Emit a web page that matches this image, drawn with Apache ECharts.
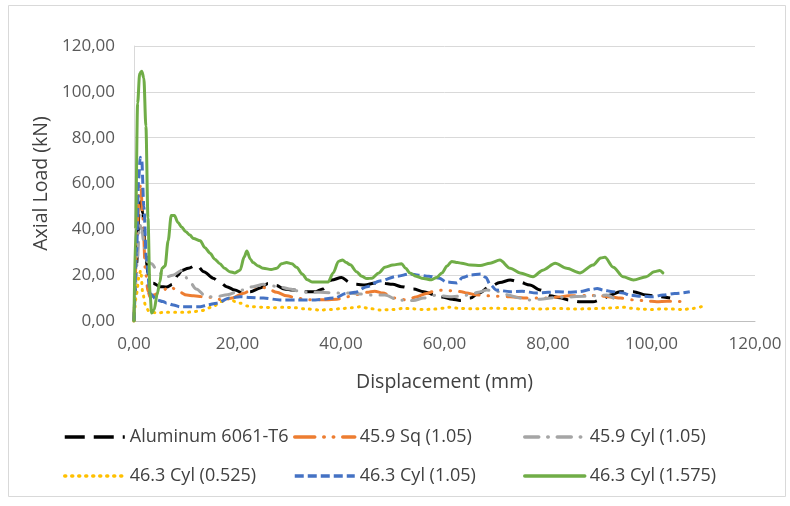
<!DOCTYPE html>
<html>
<head>
<meta charset="utf-8">
<script src="https://cdn.jsdelivr.net/npm/echarts@6/dist/echarts.min.js"></script>
<style>html,body{margin:0;padding:0;background:#fff;}#c{width:790px;height:506px;}</style>
</head>
<body>
<div id="c"></div>
<script>
// ---- data ----
const seriesNames = ['Aluminum 6061-T6', '45.9 Sq (1.05)', '45.9 Cyl (1.05)', '46.3 Cyl (0.525)', '46.3 Cyl (1.05)', '46.3 Cyl (1.575)'];
const xTicks = [0, 20, 40, 60, 80, 100, 120];
const yTicks = [0, 20, 40, 60, 80, 100, 120];

const aluminum = [[0,0],[0.5,25],[1.0,48],[1.3,52],[1.7,47],[2.2,30],[2.7,21],[3.2,18],[3.7,16.5],[5,15],[6.3,14.8],[7.5,16],[8.5,20],[9.2,22],[10.5,23],[12.1,24.4],[13.5,21.5],[15.3,18.7],[16.5,17],[17.9,15],[19.5,13.5],[21,12.2],[22.5,12.8],[24.4,14.4],[25.9,16.4],[27.5,15.5],[29,14],[30.7,13.5],[33,12.8],[35,12.8],[36.5,14],[38.2,17.9],[40.1,19],[41.7,16.8],[43,16],[44.6,15.7],[46.6,16.6],[48,16.5],[50,16],[51.7,15],[54,14],[56,12.8],[58,11.5],[59.5,10.5],[61.5,9.5],[63,9],[65,10],[66.5,12],[68.8,15],[70.7,16.8],[72.7,17.9],[74.5,17],[76.5,15.7],[78.5,13.5],[80.4,11],[82.3,10.2],[84,9.2],[86.2,8.4],[88.7,8.4],[90.5,9.5],[92,11.3],[93.9,12.8],[96.5,12.8],[99,11.3],[101.6,10.6],[103.6,10]];

const sq105 = [[0,0],[0.5,30],[1.0,55],[1.3,60],[1.7,45],[2.2,22],[2.7,13],[3.1,10.5],[4,11.5],[5.6,13.5],[7,15],[8.5,13],[10.2,11.3],[11.5,11],[13.3,10.6],[15.3,10.3],[17.2,9],[19,10],[21,12],[23.7,15],[25.5,14.5],[27.6,12.5],[29.5,11],[31.5,10],[33.5,9.3],[35.3,9.2],[37.2,9.3],[39.2,9.5],[41,10.5],[43,11.5],[45,12.5],[46.5,13],[48.1,12.2],[50.4,10],[52.7,9.2],[54.5,10.5],[56.5,12],[58,13],[59.7,13.5],[61.5,13.2],[63.3,12.8],[64.3,12.2],[66,11.5],[68,11],[70,10.8],[72.7,10.6],[75.9,10],[78,10],[80,10],[82,10.5],[84,11],[86,11],[88,11.2],[90,11],[92,10.5],[94,10],[96.5,9.2],[99,8.8],[101,8.4],[103,8.6],[105,8.5],[107,8.4]];

const cyl105 = [[0,0],[0.6,25],[1.1,42],[1.5,40],[2,32],[2.5,26],[3.4,25],[4.5,22],[6,19],[7.5,20],[9.2,22],[10.5,18],[12,14],[14,10.6],[16,10.6],[18,11.5],[21,13.5],[23,15],[25,16],[28,15],[30,14],[32,13],[34,12.5],[36,12.5],[39.5,12.2],[41.4,12.2],[43.5,11.8],[46,11.3],[48.5,11.3],[51,9.2],[52.4,9],[54,9],[56,10],[58.5,11.3],[61,10.6],[63,10.8],[65,11.5],[66.5,12.5],[68.2,13.5],[70,13],[72,11.5],[74.6,10],[76.5,9.2],[78.5,9.5],[81,10.2],[84,10.5],[87,10.8],[89.5,11],[91.3,11.3],[92.6,10]];

const cyl0525 = [[0,0],[0.5,12],[1.0,20],[1.3,22],[1.7,12],[2.2,7],[2.8,4.5],[4.4,3.5],[6,3.8],[8,3.8],[10,3.8],[11.4,4],[13,4.5],[15,6],[17,8.5],[18.5,10],[19.5,8.5],[20.5,7.8],[22,6.5],[23,6.2],[25,6],[27,5.8],[29,6],[31,5.8],[33,5.3],[36,4.8],[38,5],[40,5.4],[42,5.8],[43.7,6.2],[45.5,5.5],[47.5,4.8],[50,5],[52,5.5],[54,5.3],[56,5],[58,5.2],[60,5.6],[61,6],[63,5.5],[65,5.3],[67,5.4],[69,5.6],[71,5.5],[73,5.3],[75,5.5],[77,5.4],[79,5.2],[81,5.5],[83,5.4],[85,5.2],[87,5.3],[89,5.4],[91,5.6],[93,5.8],[94.5,6],[96,5.6],[98,5.2],[100,5],[102,5.3],[104,5.2],[106,5],[108,5.5],[110,6.5]];

const cyl105b = [[0,0],[0.5,30],[0.9,62],[1.2,71.5],[1.5,70],[1.9,50],[2.4,27],[3.1,12],[4.4,9.2],[5.6,8.5],[6.3,7.8],[7.6,7],[8.9,6.2],[10.2,6.2],[12.8,6.2],[14.2,7],[16,7.8],[18.5,10],[20.5,10.6],[22.5,10.3],[25,10],[28.2,9.2],[31.4,9.2],[35,9.2],[38.8,10],[41,12],[42.7,12.5],[45,15],[47.5,17.5],[50.8,19.5],[53.3,20.5],[55,20],[57,19.5],[59,18.7],[60.4,17],[62.4,16.6],[63.5,19],[65,20],[67,20.5],[68,19],[68.8,16],[70,13.5],[72.7,12.8],[75,13],[77.8,12.2],[80,12.5],[82,12.8],[84,12.5],[86,12.8],[88.5,13.8],[89.5,14.2],[90.7,13.5],[92.5,12.8],[94.5,12.2],[95.8,11.3],[98,10.8],[100.3,10.6],[102.2,11.3],[104.5,12],[107.4,12.8]];

const cyl1575 = [[0,0],[0.3,40],[0.7,95],[1.1,108],[1.5,109],[1.9,106],[2.3,85],[2.7,45],[3.1,12],[3.4,3.5],[3.9,5],[4.5,12],[5.0,17],[5.4,23],[6.0,24],[6.6,35],[7.2,46],[7.8,46],[8.5,43],[9.2,41],[10.0,39],[10.8,37.5],[11.5,36],[12.8,35],[13.7,32],[14.7,29.6],[15.6,27],[16.6,25],[17.5,23],[18.5,21.5],[19.5,21],[20.5,22.2],[21.3,28],[21.8,30.5],[22.5,27],[23,25.5],[24,24],[25,23],[26.5,22.5],[27.6,23],[28.5,25],[29.5,25.5],[30.5,25],[31.4,23.5],[32.5,20.5],[33.5,18],[34.5,17],[36,17],[37.5,17],[38.5,21],[39.5,26],[40.3,26.6],[41,25.5],[41.8,24.5],[43,21.5],[44,19.5],[45,18.5],[46,18.7],[47.3,21],[48.5,23.5],[50,24.4],[51.7,25],[52.5,23],[53.3,21],[54.5,19.5],[55.6,18.7],[57.5,18],[58.5,19],[59.5,21],[60.5,24],[61.4,26],[62.5,25.5],[63.3,25.2],[65,24.4],[66.9,24.2],[68.8,25.2],[70.7,26.6],[72.7,23],[74.6,21],[77.1,19.3],[79,22.2],[81.4,25.2],[83.6,23],[86.2,21],[88.7,24.4],[90.2,27.5],[91,27.8],[92.6,23.5],[94.5,19.3],[96.5,17.9],[99,19.3],[100.5,21.5],[101.6,22],[102.2,21]];

const seriesData = [aluminum, sq105, cyl105, cyl0525, cyl105b, cyl1575];
const seriesColors = ['#000000', '#ED7D31', '#A5A5A5', '#FFC000', '#4472C4', '#70AD47'];
const seriesDash = [[20,9], [20,9,0.5,9,0.5,9], [14,9,0.5,9], [1,6], [9,4], 'solid'];
const seriesCap = ['butt', 'round', 'round', 'round', 'butt', 'round'];

// ---- chart ----
const font = 'Open Sans';
const fmt = v => v.toFixed(2).replace('.', ',');
const chart = echarts.init(document.getElementById('c'), null, {renderer: 'canvas'});

const legendPos = [[63, 428], [293, 428], [523, 428], [63, 467], [293, 467], [523, 467]];
const legends = seriesNames.map((n, i) => ({
  left: legendPos[i][0], top: legendPos[i][1], data: [n],
  itemWidth: 60, itemHeight: 14, padding: 0,
  itemStyle: {opacity: 0},
  lineStyle: {width: 3.5},
  textStyle: {fontFamily: font, fontSize: 18, color: '#404040'}
}));

chart.setOption({
  animation: false,
  backgroundColor: '#fff',
  graphic: [{type: 'rect', shape: {x: 8.5, y: 5.5, width: 777, height: 491}, style: {fill: 'none', stroke: '#d9d9d9', lineWidth: 1}, silent: true}],
  grid: {left: 134, right: 35, top: 46, bottom: 185, containLabel: false},
  legend: legends,
  xAxis: {
    type: 'value', min: xTicks[0], max: xTicks[xTicks.length - 1], interval: 20,
    name: 'Displacement (mm)', nameLocation: 'middle', nameGap: 51,
    nameTextStyle: {fontFamily: font, fontSize: 19.5, color: '#404040'},
    axisLine: {show: true, lineStyle: {color: '#bfbfbf', width: 1}},
    axisTick: {show: false},
    splitLine: {show: false},
    axisLabel: {fontFamily: font, fontSize: 17, color: '#595959', margin: 15, formatter: fmt}
  },
  yAxis: {
    type: 'value', min: yTicks[0], max: yTicks[yTicks.length - 1], interval: 20,
    name: 'Axial Load (kN)', nameLocation: 'middle', nameGap: 83, nameRotate: 90,
    nameTextStyle: {fontFamily: font, fontSize: 19.5, color: '#404040'},
    axisLine: {show: true, lineStyle: {color: '#d9d9d9', width: 1}},
    axisTick: {show: false},
    splitLine: {show: true, lineStyle: {color: '#d9d9d9', width: 1}},
    axisLabel: {fontFamily: font, fontSize: 17, color: '#595959', margin: 19, formatter: fmt}
  },
  series: seriesNames.map((n, i) => ({
    name: n, type: 'line', data: seriesData[i], symbol: 'none',
    smooth: 0.3, smoothMonotone: 'x',
    color: seriesColors[i],
    lineStyle: {color: seriesColors[i], width: 3, type: seriesDash[i], cap: seriesCap[i]},
    emphasis: {disabled: true}
  }))
});
</script>
</body>
</html>
